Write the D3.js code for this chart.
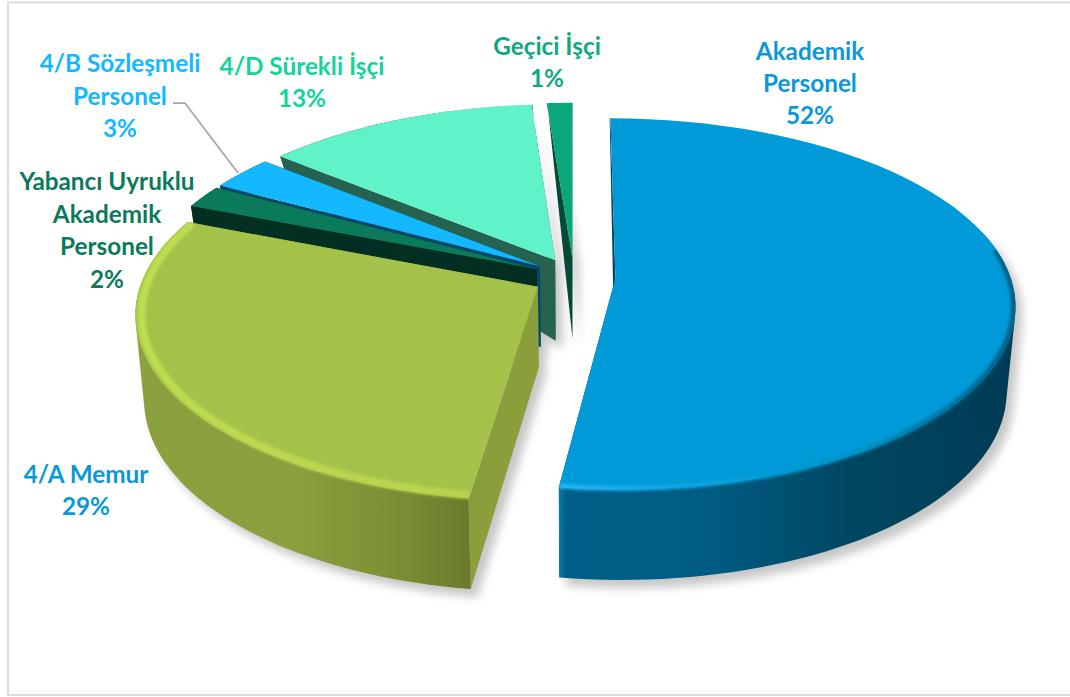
<!DOCTYPE html>
<html><head><meta charset="utf-8">
<script src="https://cdn.jsdelivr.net/npm/d3@7/dist/d3.min.js"></script>
<style>html,body{margin:0;padding:0;background:#fff;overflow:hidden}svg{display:block}text{font-family:Lato,"Open Sans",sans-serif;font-weight:700;font-size:24.3px;text-anchor:middle}</style>
</head><body><svg id="c" width="1070" height="697"></svg>
<script>
// data
const categories=["Akademik Personel","4/A Memur","Yabancı Uyruklu Akademik Personel","4/B Sözleşmeli Personel","4/D Sürekli İşçi","Geçici İşçi"];
const values=[52.2,28.8,2,3,12.8,1.2];
const topColors=["#009ad8","#a4c149","#0a7a5a","#14b8ff","#60f3ca","#0ca67c"];
const radialColors=["#04465f","#8a9e3c","#032e22","#05466b","#256350","#054a36"];
const labelColors=["#0a98d8","#0a98d8","#0a7a5a","#14b8ff","#15d39a","#12a87f"];
const labelLines=[["Akademik","Personel","52%"],["4/A Memur","29%"],["Yabancı Uyruklu","Akademik","Personel","2%"],["4/B Sözleşmeli","Personel","3%"],["4/D Sürekli İşçi","13%"],["Geçici İşçi","1%"]];
const labelCentres=[[810,60],[86,483],[107,190],[120,72],[302,75],[547,55]];
const labelStep=[32,32,32.6,32.5,32,32];
const drawOrder=[5,4,3,2,1,0];

// projection of the tilted disc
const cx=574,cy=277,R=395,k=.46,p=.138,explode=.105,q=.98,q2=1.03,apexDepth=81;
const wallHeight=d3.scaleLinear().domain([1,.5,.2,-1]).range([0,30,84,84]).clamp(true);
const svg=d3.select("#c");
const slices=d3.pie().sort(null).value(d=>d)(values);
function P(s,r,a,bottom){
  const mid=(s.startAngle+s.endAngle)/2;
  const X=explode*Math.sin(mid)+r*Math.sin(a), Y=explode*Math.cos(mid)+r*Math.cos(a);
  const z=1/(1+p*Y);
  const x=cx+X*R*z, y=cy-Y*k*R*z;
  if(!bottom) return [x,y];
  const h=r===0?apexDepth:wallHeight(Math.cos(a));
  return [cx+(x-cx)*q, Math.max(y, cy+(y-cy)*q2+h)];
}
const line=d3.line();
const angles=(a0,a1)=>d3.range(0,61).map(i=>a0+(a1-a0)*i/60);
const arcPts=(s,b,a0=s.startAngle,a1=s.endAngle,r=1)=>angles(a0,a1).map(a=>P(s,r,a,b));
const topPath=s=>line([P(s,0,0,false),...arcPts(s,false)])+"Z";
// the two big slices carry a visible outer wall: its outline is the hull of both rims
const outerPath=(s,i)=>{
  if(i<2){
    const a0=i===0?Math.PI*.42:s.startAngle;
    return line(d3.polygonHull([...arcPts(s,false,a0,s.endAngle),...arcPts(s,true,a0,s.endAngle)]))+"Z";
  }
  return line([...arcPts(s,false),...arcPts(s,true).reverse()])+"Z";
};
const radialPath=(s,a)=>line([P(s,0,a,false),P(s,1,a,false),P(s,1,a,true),P(s,0,a,true)])+"Z";

// frame
svg.append("rect").attr("x",8).attr("y",2.5).attr("width",1080).attr("height",692.5).attr("fill","#fff").attr("stroke","#dcdcdc").attr("stroke-width",2);

const defs=svg.append("defs");
defs.append("filter").attr("id","shadow").attr("x","-20%").attr("y","-20%").attr("width","140%").attr("height","140%").append("feGaussianBlur").attr("stdDeviation",5);
defs.append("filter").attr("id","soft").attr("x","-10%").attr("y","-10%").attr("width","120%").attr("height","120%").append("feGaussianBlur").attr("stdDeviation",1.8);
function grad(id,stops){
  const g=defs.append("linearGradient").attr("id",id).attr("gradientUnits","userSpaceOnUse").attr("x1",130).attr("x2",1020).attr("y1",0).attr("y2",0);
  const xs=d3.scaleLinear().domain([130,1020]).range([0,1]);
  stops.forEach(([x,c])=>g.append("stop").attr("offset",xs(x)).attr("stop-color",c));
}
grad("wall0",[[557,"#0a86ba"],[566,"#005f88"],[700,"#005c85"],[860,"#00465f"],[1015,"#003b55"]]);
grad("wall1",[[136,"#8ba03f"],[300,"#8a9f3d"],[400,"#7b8d34"],[470,"#6a7a2c"]]);
grad("rim0",[[557,"#2ab6f6"],[700,"#0aa2e0"],[860,"#0090c4"],[1017,"#005a80"]]);
grad("rim1",[[136,"#bedd50"],[470,"#b8d24e"]]);

// shadows
const sh=svg.append("g").attr("filter","url(#shadow)").attr("transform","translate(7,8)").attr("opacity",.22);
slices.forEach((s,i)=>{
  sh.append("path").attr("d",outerPath(s,i)).attr("fill","#000");
  sh.append("path").attr("d",radialPath(s,s.startAngle)).attr("fill","#000");
  sh.append("path").attr("d",radialPath(s,s.endAngle)).attr("fill","#000");
});

// slices, back to front
drawOrder.forEach(i=>{
  const s=slices[i];
  const g=svg.append("g");
  const wallFill=i<2?`url(#wall${i})`:radialColors[i];
  g.append("path").attr("d",radialPath(s,s.endAngle)).attr("fill",radialColors[i]);
  g.append("path").attr("d",radialPath(s,s.startAngle)).attr("fill",radialColors[i]);
  g.append("path").attr("d",outerPath(s,i)).attr("fill",wallFill);
  g.append("path").attr("d",topPath(s)).attr("fill",topColors[i]);
  if(i<2){
    const clip=defs.append("clipPath").attr("id","cl"+i);
    clip.append("path").attr("d",outerPath(s,i));
    clip.append("path").attr("d",topPath(s));
    const a0=i===0?Math.PI*.45:s.startAngle, a1=s.endAngle;
    g.append("g").attr("clip-path",`url(#cl${i})`).append("path")
      .attr("d",line(arcPts(s,false,a0,a1,i===1?.985:.995)))
      .attr("fill","none").attr("stroke",`url(#rim${i})`).attr("stroke-width",i===1?8:5).attr("filter","url(#soft)");
  }
});

// leader line
svg.append("path").attr("d",line([[173,103],[185,103],[238,173]])).attr("fill","none").attr("stroke","#a6a6a6").attr("stroke-width",1.75);

// labels
categories.forEach((c,i)=>{
  labelLines[i].forEach((t,j)=>{
    svg.append("text").attr("x",labelCentres[i][0]).attr("y",labelCentres[i][1]+j*labelStep[i]).attr("fill",labelColors[i]).text(t);
  });
});
</script></body></html>
